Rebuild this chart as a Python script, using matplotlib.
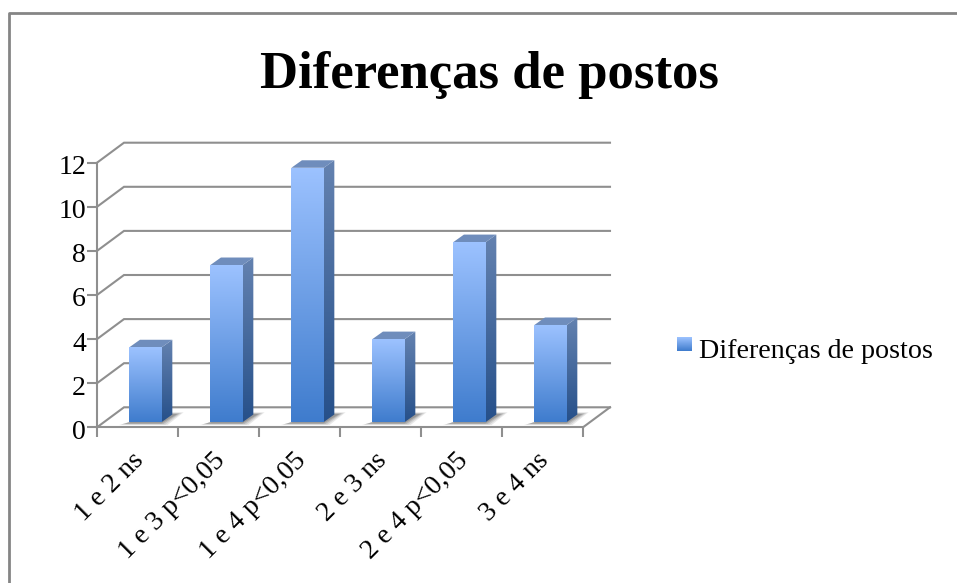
import numpy as np
import matplotlib
matplotlib.use("Agg")
import matplotlib.pyplot as plt
from matplotlib.lines import Line2D
from matplotlib.patches import Polygon
from matplotlib.transforms import ScaledTranslation

# Datos
categorias = ["1 e 2 ns", "1 e 3 p<0,05", "1 e 4 p<0,05", "2 e 3 ns", "2 e 4 p<0,05", "3 e 4 ns"]
diferencias = [3.39, 7.12, 11.53, 3.76, 8.16, 4.4]
marcas_y = [0, 2, 4, 6, 8, 10, 12]
titulo = "Diferenças de postos"

W, H = 957, 583
plt.rcParams["font.family"] = ["Liberation Serif", "DejaVu Serif"]
fig = plt.figure(figsize=(W / 100, H / 100), dpi=100)


def caja(x0, y0, x1, y1):
    # caja en pixeles de la imagen (y hacia abajo)
    return [x0 / W, 1 - y1 / H, (x1 - x0) / W, (y1 - y0) / H]


ax = fig.add_axes(caja(97, 162.7, 583, 427.3))
ax.patch.set_alpha(0)
ax.set_xlim(0, 6)
ax.set_ylim(0, 12)

GRIS = "#8f8f8f"
LW = 1.5
# profundidad del 3D en unidades de datos
PX, PY = 27 / 81, 20 / 22.05

# Marco
fig.add_artist(Line2D([9 / W, 9 / W, 1], [0, 1 - 13 / H, 1 - 13 / H], color="#858585", lw=2))

# Rejilla de fondo, pared izquierda y suelo
for v in marcas_y:
    ax.plot([0, PX, 6 + PX], [v, v + PY, v + PY], color=GRIS, lw=LW, clip_on=False, zorder=1, solid_joinstyle="miter")
ax.plot([6, 6 + PX], [0, PY], color=GRIS, lw=LW, clip_on=False, zorder=1)


def degradado(poligono, arriba, abajo, extent):
    colores = np.linspace(matplotlib.colors.to_rgb(arriba), matplotlib.colors.to_rgb(abajo), 128)[:, None, :]
    im = ax.imshow(colores, extent=extent, aspect="auto", origin="upper", zorder=3, interpolation="bilinear")
    p = Polygon(poligono, transform=ax.transData, fc="none", ec="none")
    ax.add_patch(p)
    p.set_clip_on(False)
    im.set_clip_box(fig.bbox)
    im.set_clip_path(p)


ANCHO = 0.40
DX0, DY0 = 0.10, 0.24
DX1, DY1 = 0.13, 0.34

for i, v in enumerate(diferencias):
    x0 = i + 0.5 - ANCHO / 2 + DX0
    x1 = x0 + ANCHO
    y0 = DY0
    y1 = v + DY0
    # sombra en el suelo
    for k, a in zip([0.0, 0.025, 0.05, 0.075], [0.14, 0.18, 0.24, 0.32]):
        ax.add_patch(Polygon(
            [(x0 - 0.13 + k, 0.10 + k), (x1 + 0.07 - k, 0.10 + k), (x1 + 0.27 - k, 0.68 - k), (x1, 0.68 - k)],
            fc="#5f5f5f", ec="none", alpha=a, zorder=2, clip_on=False))
    # cara lateral, cara superior y cara frontal
    degradado([(x1, y0), (x1 + DX1, y0 + DY1), (x1 + DX1, y1 + DY1), (x1, y1)], "#6482b0", "#26508a",
              (x1, x1 + DX1, y0, y1 + DY1))
    ax.add_patch(Polygon([(x0, y1), (x1, y1), (x1 + DX1, y1 + DY1), (x0 + DX1, y1 + DY1)],
                         fc="#6f8dbc", ec="none", zorder=3, clip_on=False))
    degradado([(x0, y0), (x1, y0), (x1, y1), (x0, y1)], "#9cc2ff", "#3f7ccd", (x0, x1, y0, y1))

ax.set_xlim(0, 6)
ax.set_ylim(0, 12)

# Ejes
for lado in ["top", "right"]:
    ax.spines[lado].set_visible(False)
for lado in ["left", "bottom"]:
    ax.spines[lado].set_color(GRIS)
    ax.spines[lado].set_linewidth(LW)
    ax.spines[lado].set_zorder(4)

ax.set_yticks(marcas_y)
ax.tick_params(axis="y", length=7, width=LW, color=GRIS, labelsize=20, pad=1)
ax.set_xticks(range(7), [""] * 7)
ax.tick_params(axis="x", which="major", length=7, width=LW, color=GRIS)
ax.set_xticks(np.arange(6) + 0.5, categorias, minor=True)
ax.tick_params(axis="x", which="minor", length=0, labelsize=20, pad=15)
corrimiento = ScaledTranslation(-6 / 100, 0, fig.dpi_scale_trans)
for t in ax.get_xticklabels(minor=True):
    t.set_rotation(45)
    t.set_ha("right")
    t.set_va("top")
    t.set_rotation_mode("anchor")
    t.set_transform(t.get_transform() + corrimiento)
for t in ax.get_yticklabels():
    t.set_transform(t.get_transform() + ScaledTranslation(0, -2 / 100, fig.dpi_scale_trans))

# Titulo
fig.text(489.5 / W, 1 - 75 / H, titulo, fontsize=38, fontweight="bold", ha="center", va="center")

# Leyenda
ax_ley = fig.add_axes(caja(677, 337, 692, 351))
ax_ley.imshow(np.linspace(matplotlib.colors.to_rgb("#9cc2ff"), matplotlib.colors.to_rgb("#3f7ccd"), 32)[:, None, :], aspect="auto")
ax_ley.axis("off")
fig.text(699 / W, 1 - 351 / H, titulo, fontsize=20.2, ha="left", va="center")

fig.savefig("out.png", dpi=100)
